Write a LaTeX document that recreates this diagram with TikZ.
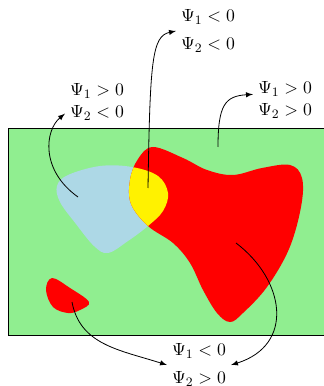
\documentclass[tikz,border=0pt]{standalone}
\definecolor{lgreen}{RGB}{144,238,144}
\definecolor{lblue}{RGB}{173,216,230}
\begin{document}
\begin{tikzpicture}[x=0.62pt,y=-0.62pt,
    pointer/.style={-latex, line width=0.5pt},
    cond/.style={align=center, inner sep=3pt, font=\fontsize{11.4}{13.7}\selectfont}]
    % Page frame (pixel grid of the figure)
    \useasboundingbox (0,0) rectangle (323,386);

    % Region outlines
    \def\bluepath{plot[smooth cycle, tension=0.6] coordinates {
      (148,226) (128,241) (108,253) (94,246) (76,224) (60,202) (57,186)
      (68,175) (100,166) (132,167) (158,176) (168,193) (163,211)}}
    \def\redpath{plot[smooth cycle, tension=0.6] coordinates {
      (153,147) (183,158) (207,170) (233,175) (262,168) (290,165) (302,178)
      (301,207) (289,249) (267,287) (243,313) (230,322) (217,313) (203,290)
      (190,263) (173,243) (148,226) (131,204) (130,180) (138,159)}}

    % Domain
    \draw[fill=lgreen, line width=0.5pt] (8,128) rectangle (340,335);

    % Sets
    \fill[lblue] \bluepath;
    \fill[red] \redpath;
    \fill[red] plot[smooth cycle, tension=0.6] coordinates {
      (46,290) (52,278) (70,288) (89,302) (80,310) (68,313) (53,307)};

    % Intersection
    \begin{scope}
      \clip \bluepath;
      \fill[yellow] \redpath;
    \end{scope}

    % Sign labels
    \node[cond] (negneg) at (208,31)  {$\Psi_1<0$\\[3.7pt]$\Psi_2<0$};
    \node[cond] (posneg) at (97,102)  {$\Psi_1>0$\\$\Psi_2<0$};
    \node[cond] (pospos) at (285,100) {$\Psi_1>0$\\$\Psi_2>0$};
    \node[cond] (negpos) at (199,365) {$\Psi_1<0$\\[3.7pt]$\Psi_2>0$};

    % Pointer start points
    \coordinate (inblue)   at (78,197);
    \coordinate (inyellow) at (148,188);
    \coordinate (ingreen)  at (218,147);
    \coordinate (inred)    at (236,243);
    \coordinate (inblob)   at (72,302);

    % Pointers
    \draw[pointer] (inblue) .. controls (40,170) and (45,130) .. (posneg.200);
    \draw[pointer] (inyellow) .. controls (150,60) and (152,36) .. (negneg.west);
    \draw[pointer] (ingreen) .. controls (218,105) and (225,96) .. (pospos.170);
    \draw[pointer] (inred) .. controls (285,280) and (295,345) .. (negpos.east);
    \draw[pointer] (inblob) .. controls (80,345) and (120,350) .. (negpos.west);
\end{tikzpicture}
\end{document}
